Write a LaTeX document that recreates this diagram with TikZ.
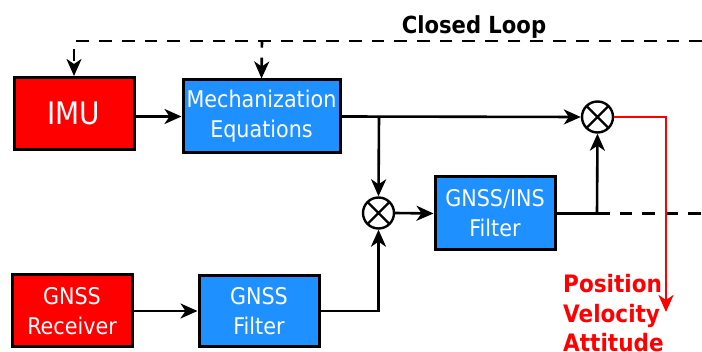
\documentclass[tikz,border=0pt]{standalone}
\usepackage{fontspec}
\setmainfont{DejaVu Sans Condensed}
\usetikzlibrary{arrows.meta,calc}
\definecolor{boxred}{HTML}{FF0000}
\definecolor{boxblue}{HTML}{1E90FF}
\tikzset{
  blk/.style={draw=black, line width=3pt, text=white, align=center, inner sep=0pt, minimum width=120pt, minimum height=72pt, font=\fontsize{23}{30}\selectfont},
  redblk/.style={blk, fill=boxred},
  blueblk/.style={blk, fill=boxblue},
  mult/.style={circle, draw=black, line width=2.4pt, minimum size=31pt, inner sep=0pt,
    path picture={\draw[line width=2.4pt] (path picture bounding box.north west) -- (path picture bounding box.south east)
      (path picture bounding box.north east) -- (path picture bounding box.south west);}},
  tip/.style={-{Stealth[length=17pt,width=15pt,inset=5pt]}},
  conn/.style={line width=2.6pt, tip},
  wire/.style={line width=2.6pt},
  dashy/.style={line width=2.6pt, dash pattern=on 12.7pt off 10pt},
}
\begin{document}
\begin{tikzpicture}[x=1pt,y=-1pt]
\useasboundingbox (0,0) rectangle (702,352);
\node[redblk, font=\fontsize{31}{34}\selectfont] (imu) at (74,113.5) {IMU};
\node[blueblk, minimum width=157pt, minimum height=73pt] (mech) at (261.5,116.5) {Mechanization\\Equations};
\node[blueblk, minimum height=73pt] (gi) at (495,213.5) {GNSS/INS\\Filter};
\node[redblk] (rec) at (72,311) {GNSS\\Receiver};
\node[blueblk, minimum height=71pt] (gf) at (259,311) {GNSS\\Filter};
\node[mult] (ot1) at (597.5,117) {};
\node[mult] (ot2) at (378.5,213) {};
\node[font=\bfseries\fontsize{23.5}{26}\selectfont] (cl) at (474,27) {Closed Loop};
\node[font=\bfseries\fontsize{24}{29.5}\selectfont, text=boxred, align=left, anchor=north west, inner sep=0pt] (pva) at (563,274.5) {Position\\Velocity\\Attitude};
\coordinate (tr) at (702,41);
\coordinate (tm) at (262,41);
\coordinate (br) at (379,116.5);
\coordinate (gj) at (597,213.5);
\coordinate (gr) at (702,213.5);
\coordinate (rd) at (666,312);
% connectors
\draw[conn] (imu.east |- mech.west) -- (mech.west);
\draw[conn] (mech.east) -- (ot1.west);
\draw[conn] (br) -- (ot2.north);
\draw[conn] (ot2.east) -- (gi.west);
\draw[wire] (gi.east) -- (gj);
\draw[conn] (gj) -- (ot1.south);
\draw[dashy] (gj) -- (gr);
\draw[conn] (rec.east) -- (gf.west);
\draw[conn] (gf.east) -| (ot2.south);
\draw[conn, draw=boxred] (ot1.east) -| (rd);
\draw[dashy, tip] (tr) -| (imu.north);
\draw[dashy, dash phase=6pt, tip] (tm) -- (mech.north);
\end{tikzpicture}
\end{document}
